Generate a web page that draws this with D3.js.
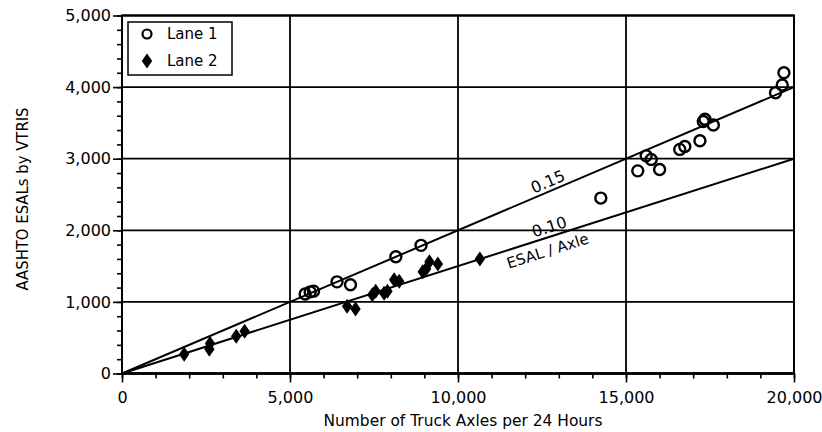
<!DOCTYPE html>
<html>
<head>
<meta charset="utf-8">
<script src="https://cdn.jsdelivr.net/npm/d3@7"></script>
<style>
  body { margin: 0; background: #fff; }
  text { font-family: "DejaVu Sans", sans-serif; fill: #000; }
</style>
</head>
<body>
<div id="chart"></div>
<script>
// data: [truck axles / 24 h, ESALs]
const lane1 = [
    [5450, 1110], [5600, 1140], [5700, 1150], [6400, 1280], [6800, 1240],
    [8150, 1630], [8900, 1790], [14250, 2450], [15350, 2830], [15600, 3040],
    [15750, 2990], [16000, 2850], [16600, 3130], [16750, 3170], [17200, 3250],
    [17300, 3520], [17350, 3550], [17600, 3470], [19450, 3920], [19650, 4030],
    [19700, 4200]
]
const lane2 = [
    [1850, 270], [2600, 340], [2620, 420], [3400, 520], [3650, 590],
    [6700, 940], [6950, 900], [7450, 1100], [7550, 1150], [7800, 1120],
    [7900, 1150], [8100, 1310], [8250, 1290], [8950, 1420], [9050, 1460],
    [9150, 1560], [9400, 1530], [10650, 1600]
]
// reference lines (slope through origin) and their labels as printed
const refSlopes = [0.2, 0.15]
const refLabels = ["0.15", "0.10"]
const xTicks = [0, 5000, 10000, 15000, 20000]
const yTicks = [0, 1000, 2000, 3000, 4000, 5000]
const legendNames = ["Lane 1", "Lane 2"]

const W = 822, H = 432
const svg = d3.select('#chart').append('svg')
    .attr('width', W).attr('height', H)

const x = d3.scaleLinear().domain([0, 20000]).range([122, 794])
const y = d3.scaleLinear().domain([0, 5000]).range([373.5, 15.5])
const fmt = d3.format(",")

// gridlines
const grid = svg.append('g')
grid.selectAll('.gx').data(xTicks).enter().append('line')
    .attr('x1', d => x(d)).attr('x2', d => x(d))
    .attr('y1', y(0)).attr('y2', y(5000))
    .attr('stroke', '#000').attr('stroke-width', 1.8)
grid.selectAll('.gy').data(yTicks).enter().append('line')
    .attr('x1', x(0)).attr('x2', x(20000))
    .attr('y1', d => y(d)).attr('y2', d => y(d))
    .attr('stroke', '#000').attr('stroke-width', 1.8)

// minor + major ticks
const xMinor = d3.range(0, 20001, 1000)
const yMinor = d3.range(0, 5001, 200)
const xAxisG = svg.append('g').attr('transform', `translate(0, ${y(0)})`)
xAxisG.call(d3.axisBottom(x).tickValues(xMinor).tickSize(5).tickFormat(''))
xAxisG.append('g')
    .call(d3.axisBottom(x).tickValues(xTicks).tickSize(9).tickPadding(9).tickFormat(fmt))
xAxisG.selectAll('path.domain').remove()
xAxisG.selectAll('line').attr('stroke', '#000').attr('stroke-width', 1.6)
xAxisG.selectAll('text').style('font-size', '16px').attr('fill', '#000')

const yAxisG = svg.append('g').attr('transform', `translate(${x(0)}, 0)`)
yAxisG.call(d3.axisLeft(y).tickValues(yMinor).tickSize(5).tickFormat(''))
yAxisG.append('g')
    .call(d3.axisLeft(y).tickValues(yTicks).tickSize(9).tickPadding(2).tickFormat(fmt))
yAxisG.selectAll('path.domain').remove()
yAxisG.selectAll('line').attr('stroke', '#000').attr('stroke-width', 1.6)
yAxisG.selectAll('text').style('font-size', '16px').attr('fill', '#000')

// frame
svg.append('rect')
    .attr('x', x(0)).attr('y', y(5000))
    .attr('width', x(20000) - x(0)).attr('height', y(0) - y(5000))
    .attr('fill', 'none').attr('stroke', '#000').attr('stroke-width', 2)
svg.append('line')
    .attr('x1', x(0)).attr('x2', x(20000)).attr('y1', y(0)).attr('y2', y(0))
    .attr('stroke', '#000').attr('stroke-width', 2.6)

// reference lines
const refLine = d3.line().x(d => x(d[0])).y(d => y(d[1]))
refSlopes.forEach(s => {
    svg.append('path')
        .datum([[0, 0], [20000, 20000 * s]])
        .attr('d', refLine)
        .attr('fill', 'none').attr('stroke', '#000').attr('stroke-width', 2)
})
const angle = s => Math.atan((y(0) - y(20000 * s)) / (x(20000) - x(0))) * 180 / Math.PI

// labels along the lines
refSlopes.forEach((s, i) => {
    const xd = 12300
    svg.append('text')
        .attr('transform', `translate(${x(xd)}, ${y(xd * s)}) rotate(${-angle(s)})`)
        .attr('dy', -4)
        .style('font-size', '16px')
        .text(refLabels[i])
})
svg.append('text')
    .attr('transform', `translate(${x(11350)}, ${y(11350 * 0.15)}) rotate(${-angle(0.15)})`)
    .attr('dy', 18)
    .style('font-size', '15px')
    .text("ESAL / Axle")

// points
svg.append('g').selectAll('circle').data(lane1).enter().append('circle')
    .attr('cx', d => x(d[0])).attr('cy', d => y(d[1])).attr('r', 5.5)
    .attr('fill', 'none').attr('stroke', '#000').attr('stroke-width', 2.4)

const diamond = 'M0,-7.5L5.2,0L0,7.5L-5.2,0Z'
svg.append('g').selectAll('path').data(lane2).enter().append('path')
    .attr('transform', d => `translate(${x(d[0])}, ${y(d[1])})`)
    .attr('d', diamond).attr('fill', '#000')

// legend
const lg = svg.append('g')
lg.append('rect').attr('x', 128).attr('y', 22).attr('width', 104).attr('height', 53)
    .attr('fill', '#fff').attr('stroke', '#000').attr('stroke-width', 1.5)
lg.append('circle').attr('cx', 147).attr('cy', 34).attr('r', 4.5)
    .attr('fill', 'none').attr('stroke', '#000').attr('stroke-width', 2.2)
lg.append('path').attr('transform', 'translate(147, 61)').attr('d', diamond).attr('fill', '#000')
legendNames.forEach((n, i) => {
    lg.append('text').attr('x', 167).attr('y', 39 + i * 27)
        .style('font-size', '15px').text(n)
})

// axis titles
svg.append('text')
    .attr('x', 463).attr('y', 426)
    .attr('text-anchor', 'middle').style('font-size', '15px')
    .attr('textLength', 279).attr('lengthAdjust', 'spacingAndGlyphs')
    .text("Number of Truck Axles per 24 Hours")
svg.append('text')
    .attr('transform', 'translate(28, 199) rotate(-90)')
    .attr('text-anchor', 'middle').style('font-size', '15px')
    .attr('textLength', 183).attr('lengthAdjust', 'spacingAndGlyphs')
    .text("AASHTO ESALs by VTRIS")
</script>
</body>
</html>
